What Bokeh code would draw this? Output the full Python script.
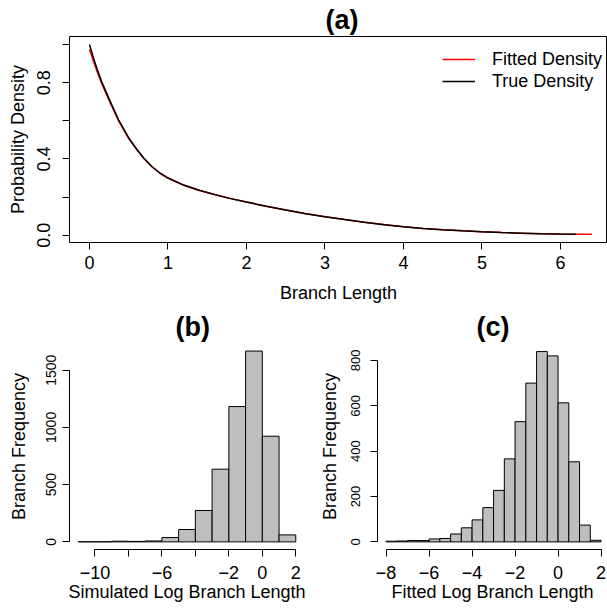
from bokeh.plotting import figure
from bokeh.layouts import column, row
from bokeh.models import Range1d, FixedTicker, Legend, LegendItem
from bokeh.embed import file_html
from bokeh.resources import INLINE

FONT = "Liberation Sans"

# ---------------- data ----------------
# Panel (a): densities
true_x = [0.0, 0.05, 0.10, 0.16, 0.25, 0.37, 0.50, 0.60, 0.69, 0.80, 0.90, 1.00,
          1.20, 1.40, 1.60, 1.80, 2.00, 2.25, 2.50, 2.75, 3.00, 3.25, 3.50, 3.75,
          4.00, 4.25, 4.50, 4.75, 5.00, 5.25, 5.50, 5.75, 6.00, 6.20]
true_y = [1.000, 0.930, 0.868, 0.800, 0.715, 0.605, 0.510, 0.452, 0.405, 0.358, 0.325, 0.300,
          0.263, 0.236, 0.213, 0.192, 0.174, 0.152, 0.132, 0.113, 0.097, 0.082, 0.068, 0.055,
          0.044, 0.036, 0.029, 0.023, 0.018, 0.014, 0.011, 0.008, 0.006, 0.005]
fit_x = [0.0, 0.05, 0.10, 0.16, 0.25, 0.37, 0.50, 0.60, 0.69, 0.80, 0.90, 1.00,
         1.20, 1.40, 1.60, 1.80, 2.00, 2.25, 2.50, 2.75, 3.00, 3.25, 3.50, 3.75,
         4.00, 4.25, 4.50, 4.75, 5.00, 5.25, 5.50, 5.75, 6.00, 6.20, 6.40]
fit_y = [0.975, 0.912, 0.855, 0.790, 0.707, 0.600, 0.507, 0.450, 0.404, 0.358, 0.325, 0.300,
         0.262, 0.235, 0.212, 0.192, 0.174, 0.152, 0.132, 0.114, 0.097, 0.082, 0.068, 0.056,
         0.045, 0.036, 0.029, 0.023, 0.018, 0.014, 0.011, 0.008, 0.006, 0.005, 0.005]
a_xticks = [0, 1, 2, 3, 4, 5, 6]
a_yticks = [0.0, 0.2, 0.4, 0.6, 0.8, 1.0]
a_ylabels = ["0.0", "", "0.4", "", "0.8", ""]

# Panel (b): simulated log branch length histogram (bin width 1)
b_left = [-11, -10, -9, -8, -7, -6, -5, -4, -3, -2, -1, 0, 1]
b_right = [-10, -9, -8, -7, -6, -5, -4, -3, -2, -1, 0, 1, 2]
b_counts = [1, 1, 6, 4, 8, 38, 108, 274, 635, 1182, 1667, 923, 61]
b_xticks = [-10, -8, -6, -4, -2, 0, 2]
b_xlabels = ["\u221210", "", "\u22126", "", "\u22122", "0", "2"]
b_yticks = [0, 500, 1000, 1500]

# Panel (c): fitted log branch length histogram (bin width 0.5)
c_left = [-8.0, -7.5, -7.0, -6.5, -6.0, -5.5, -5.0, -4.5, -4.0, -3.5,
          -3.0, -2.5, -2.0, -1.5, -1.0, -0.5, 0.0, 0.5, 1.0, 1.5]
c_right = [-7.5, -7.0, -6.5, -6.0, -5.5, -5.0, -4.5, -4.0, -3.5, -3.0,
           -2.5, -2.0, -1.5, -1.0, -0.5, 0.0, 0.5, 1.0, 1.5, 2.0]
c_counts = [3, 4, 6, 6, 13, 15, 35, 62, 97, 151, 227, 366, 530, 700, 839, 820, 613, 353, 74, 7]
c_xticks = [-8, -6, -4, -2, 0, 2]
c_xlabels = ["\u22128", "\u22126", "\u22124", "\u22122", "0", "2"]
c_yticks = [0, 200, 400, 600, 800]


def style(p, xticks, xlabels, yticks, ylabels, xlab, ylab, xfs, yfs,
          xstand, ystand, xlstand, ylstand):
    p.grid.visible = False
    p.background_fill_color = "white"
    p.border_fill_color = "white"
    for ax in (p.xaxis[0], p.yaxis[0]):
        ax.axis_line_color = "black"
        ax.axis_line_width = 1
        ax.major_tick_line_color = "black"
        ax.major_tick_line_width = 1
        ax.major_tick_out = 7
        ax.major_tick_in = 0
        ax.minor_tick_line_color = None
        ax.major_label_text_font = FONT
        ax.major_label_text_color = "black"
        ax.axis_label_text_font = FONT
        ax.axis_label_text_font_size = "18px"
        ax.axis_label_text_font_style = "normal"
        ax.axis_label_text_color = "black"
    xa, ya = p.xaxis[0], p.yaxis[0]
    xa.ticker = FixedTicker(ticks=xticks)
    xa.major_label_overrides = {t: l for t, l in zip(xticks, xlabels)}
    xa.major_label_text_font_size = xfs
    xa.major_label_standoff = xstand
    xa.axis_label = xlab
    xa.axis_label_standoff = xlstand
    xa.bounds = (min(xticks), max(xticks))
    ya.ticker = FixedTicker(ticks=yticks)
    ya.major_label_overrides = {t: l for t, l in zip(yticks, ylabels)}
    ya.major_label_text_font_size = yfs
    ya.major_label_orientation = "vertical"
    ya.major_label_standoff = ystand
    ya.axis_label = ylab
    ya.axis_label_standoff = ylstand
    ya.bounds = (min(yticks), max(yticks))


def style_title(p, size, offset, standoff):
    p.title.align = "left"
    p.title.text_font = FONT
    p.title.text_font_size = size
    p.title.text_font_style = "bold"
    p.title.text_color = "black"
    p.title.standoff = standoff
    p.title.offset = offset


# ---------------- panel (a) ----------------
pa = figure(title="(a)", frame_width=538, frame_height=206, min_border_left=69, min_border_right=0,
            min_border_top=36, min_border_bottom=60,
            x_range=Range1d(-0.2548, 6.599), y_range=Range1d(-0.038, 1.042),
            output_backend="svg", toolbar_location=None)
pa.outline_line_color = "black"
pa.outline_line_width = 1
pa.outline_line_alpha = 1
r_fit = pa.line(fit_x, fit_y, line_color="red", line_width=1.5)
r_true = pa.line(true_x, true_y, line_color="black", line_width=1.5)
style(pa, a_xticks, [str(t) for t in a_xticks], a_yticks, a_ylabels,
      "Branch Length", "Probability Density", "18px", "18px", 6, 12, 11, 7)
legend = Legend(items=[LegendItem(label="Fitted Density", renderers=[r_fit]),
                       LegendItem(label="True Density", renderers=[r_true])],
                location=(373, 150), border_line_color=None, background_fill_alpha=0,
                label_text_font=FONT, label_text_font_size="18px", label_text_color="black",
                glyph_width=33, glyph_height=22, label_height=22, label_standoff=17,
                spacing=0, padding=0, margin=0)
pa.add_layout(legend)
style_title(pa, "27px", 256, 3)

# ---------------- panel (b) ----------------
pb = figure(title="(b)", frame_width=235, frame_height=206, min_border_left=69, min_border_right=9,
            min_border_top=38, min_border_bottom=55,
            x_range=Range1d(-11.52, 2.52), y_range=Range1d(-66.7, 1733),
            output_backend="svg", toolbar_location=None)
pb.outline_line_color = None
pb.quad(left=b_left, right=b_right, top=b_counts, bottom=0,
        fill_color="#BEBEBE", line_color="black", line_width=1)
style(pb, b_xticks, b_xlabels, b_yticks, [str(t) for t in b_yticks],
      "Simulated Log Branch Length", "Branch Frequency", "18px", "14px", 9, 6, 0, 15)
style_title(pb, "27px", 106, 3)

# ---------------- panel (c) ----------------
pc = figure(title="(c)", frame_width=230, frame_height=206, min_border_left=64, min_border_right=0,
            min_border_top=38, min_border_bottom=55,
            x_range=Range1d(-8.4, 2.3), y_range=Range1d(-33.6, 874.6),
            output_backend="svg", toolbar_location=None)
pc.outline_line_color = None
pc.quad(left=c_left, right=c_right, top=c_counts, bottom=0,
        fill_color="#BEBEBE", line_color="black", line_width=1)
style(pc, c_xticks, c_xlabels, c_yticks, [str(t) for t in c_yticks],
      "Fitted Log Branch Length", "Branch Frequency", "18px", "13px", 9, 10, 0, 9)
style_title(pc, "27px", 99, 3)

layout = column(pa, row(pb, pc))
open("out.html", "w").write(file_html(layout, INLINE))
